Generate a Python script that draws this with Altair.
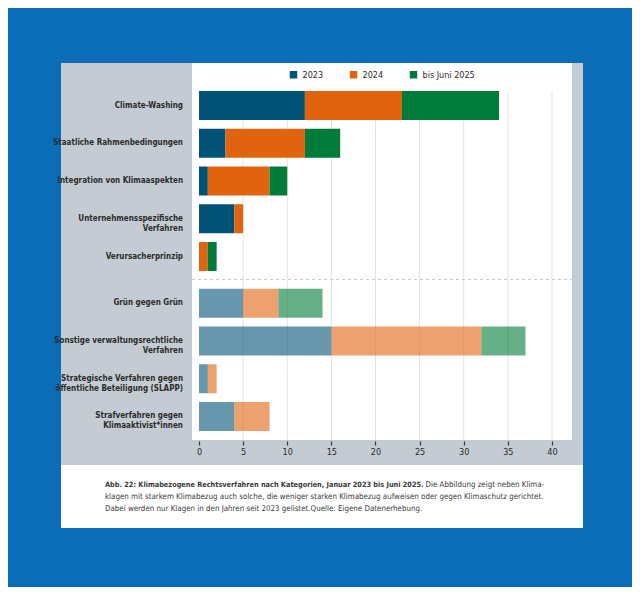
import altair as alt
import pandas as pd

# ---------------- data ----------------
categories = [
    "Climate-Washing",
    "Staatliche Rahmenbedingungen",
    "Integration von Klimaaspekten",
    "Unternehmensspezifische Verfahren",
    "Verursacherprinzip",
    "Grün gegen Grün",
    "Sonstige verwaltungsrechtliche Verfahren",
    "Strategische Verfahren gegen öffentliche Beteiligung (SLAPP)",
    "Strafverfahren gegen Klimaaktivist*innen",
]
labels = [
    "Climate-Washing",
    "Staatliche Rahmenbedingungen",
    "Integration von Klimaaspekten",
    "Unternehmensspezifische\nVerfahren",
    "Verursacherprinzip",
    "Grün gegen Grün",
    "Sonstige verwaltungsrechtliche\nVerfahren",
    "Strategische Verfahren gegen\nöffentliche Beteiligung (SLAPP)",
    "Strafverfahren gegen\nKlimaaktivist*innen",
]
groups = ["stark"] * 5 + ["schwach"] * 4
v2023 = [12, 3, 1, 4, 0, 5, 15, 1, 4]
v2024 = [11, 9, 7, 1, 1, 4, 17, 1, 4]
v2025 = [11, 4, 2, 0, 1, 5, 5, 0, 0]
series = ["2023", "2024", "bis Juni 2025"]
colors = ["#005276", "#e0630d", "#007c3a"]
x_ticks = [0, 5, 10, 15, 20, 25, 30, 35, 40]
grid_vals = [5, 10, 15, 20, 25, 30, 35, 40]

caption_bold = "Abb. 22: Klimabezogene Rechtsverfahren nach Kategorien, Januar 2023 bis Juni 2025."
caption_rest = [
    "Die Abbildung zeigt neben Klima-",
    "klagen mit starkem Klimabezug auch solche, die weniger starken Klimabezug aufweisen oder gegen Klimaschutz gerichtet.",
    "Dabei werden nur Klagen in den Jahren seit 2023 gelistet.Quelle: Eigene Datenerhebung.",
]

rows = []
for i, c in enumerate(categories):
    for k, (s, vals) in enumerate(zip(series, [v2023, v2024, v2025])):
        rows.append({"category": c, "series": s, "value": vals[i], "order": k, "group": groups[i]})
df = pd.DataFrame(rows)
lab_df = pd.DataFrame({"category": categories, "label": labels, "group": groups})
grid_df = pd.DataFrame({"value": grid_vals})

FONT = "Liberation Sans Narrow, DejaVu Sans Condensed, sans-serif"
TXT = "#2b2b2b"
W, H = 380, 377
SHIFT = 9

one = alt.InlineData(values=[{"k": 1}])

x_scale = alt.Scale(domain=[-0.793, 42.27], nice=False, zero=False)
x_axis = alt.Axis(values=x_ticks, domain=False, grid=False, tickColor="#333333",
                  tickSize=4, tickWidth=1.2, offset=1,
                  labelFontSize=9, labelColor=TXT, labelFont=FONT, labelPadding=2,
                  zindex=1)
y_enc = alt.Y(
    "category:N",
    scale=alt.Scale(domain=categories, paddingInner=0.2318, paddingOuter=0.6093, align=0.6087),
    axis=None,
)

# ---------------- decorations ----------------
card = alt.Chart(one).mark_rect(color="#ffffff").encode(
    x=alt.value(-131), x2=alt.value(391), y=alt.value(0), y2=alt.value(465)
)
gray = alt.Chart(one).mark_rect(color="#c4cbd3").encode(
    x=alt.value(-131), x2=alt.value(391), y=alt.value(0), y2=alt.value(402)
)
plotbg = alt.Chart(one).mark_rect(color="#ffffff").encode(
    x=alt.value(0), x2=alt.value(W), y=alt.value(0), y2=alt.value(H)
)
grid = alt.Chart(grid_df).mark_rule(color="#e3e3e3", strokeWidth=1).encode(
    x=alt.X("value:Q", scale=x_scale, axis=x_axis, title=None),
    y=alt.value(28), y2=alt.value(H),
)
sep = alt.Chart(one).mark_rule(color="#c8c8c8", strokeDash=[3, 3], strokeWidth=1).encode(
    x=alt.value(0), x2=alt.value(W), y=alt.value(216.5)
)

color_enc = alt.Color(
    "series:N",
    scale=alt.Scale(domain=series, range=colors),
    legend=alt.Legend(
        title=None, orient="none", direction="horizontal", legendX=97, legendY=7,
        symbolType="square", symbolSize=56, symbolStrokeWidth=0, symbolOpacity=1,
        labelFontSize=9, labelColor=TXT, labelFont=FONT, labelOffset=4.5,
        columnPadding=25, padding=0,
    ),
)
x_enc = alt.X("value:Q", stack="zero", scale=x_scale, title=None, axis=x_axis)

bars_top = alt.Chart(df).transform_filter(alt.datum.group == "stark").mark_bar(opacity=1).encode(
    x=x_enc, y=y_enc, color=color_enc, order=alt.Order("order:Q")
)
bars_bot = alt.Chart(df).transform_filter(alt.datum.group == "schwach").mark_bar(
    opacity=0.6, yOffset=SHIFT
).encode(x=x_enc, y=y_enc, color=color_enc, order=alt.Order("order:Q"))

lab_kw = dict(align="right", baseline="middle", font=FONT, fontSize=8,
              fontWeight="bold", color=TXT, lineBreak="\n", lineHeight=10)
labels_top = alt.Chart(lab_df).transform_filter(alt.datum.group == "stark").mark_text(**lab_kw).encode(
    y=y_enc, x=alt.value(-9), text="label:N"
)
labels_bot = alt.Chart(lab_df).transform_filter(alt.datum.group == "schwach").mark_text(
    yOffset=SHIFT, **lab_kw
).encode(y=y_enc, x=alt.value(-9), text="label:N")


def cap(text, x, y, bold=False, size=7.9):
    return alt.Chart(alt.InlineData(values=[{"t": text}])).mark_text(
        align="left", baseline="middle", font=FONT, fontSize=size,
        fontWeight="bold" if bold else "normal", color="#3a3a3a"
    ).encode(text="t:N", x=alt.value(x), y=alt.value(y))


caps = [
    cap(caption_bold, -87, 421.5, bold=True, size=7.3),
    cap(caption_rest[0], 233.5, 421.5),
    cap(caption_rest[1], -87, 433.5),
    cap(caption_rest[2], -87, 445.5),
]

chart = alt.layer(
    card, gray, plotbg, grid, bars_top, bars_bot, sep, labels_top, labels_bot, *caps
).properties(
    width=W, height=H,
    autosize=alt.AutoSizeParams(type="none"),
    padding={"left": 184, "top": 55, "right": 60, "bottom": 147},
    background="#0b6db8",
).configure_view(stroke=None)

chart.save("out.html", embed_options={"renderer": "svg", "actions": False})
